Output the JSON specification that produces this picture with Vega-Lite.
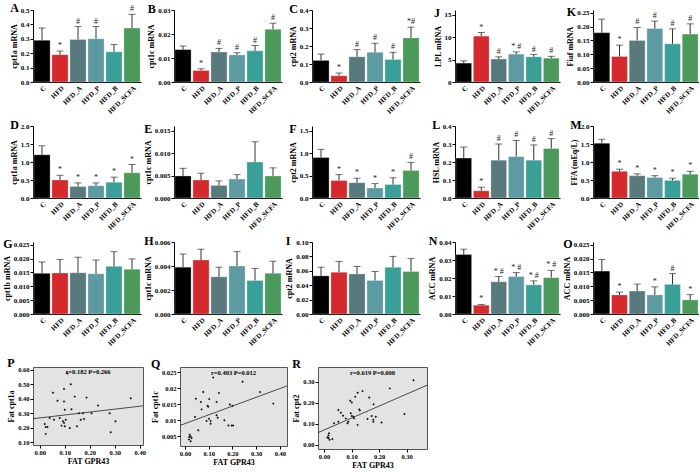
{
"$schema": "https://vega.github.io/schema/vega-lite/v6.json",
"padding": {"left": 3, "top": 2, "right": 0, "bottom": 0},
"data": {"name": "bars"},
"datasets": {
"bars": [
{"p":"A","g":"C","v":0.29,"e":0.375,"s":""},{"p":"A","g":"HFD","v":0.19,"e":0.215,"s":"*"},{"p":"A","g":"HFD_A","v":0.295,"e":0.385,"s":"#"},{"p":"A","g":"HFD_P","v":0.3,"e":0.385,"s":"#"},{"p":"A","g":"HFD_B","v":0.21,"e":0.26,"s":""},{"p":"A","g":"HFD_SCFA","v":0.375,"e":0.47,"s":"#"},
{"p":"B","g":"C","v":0.0135,"e":0.015,"s":""},{"p":"B","g":"HFD","v":0.0048,"e":0.0055,"s":"*"},{"p":"B","g":"HFD_A","v":0.0125,"e":0.014,"s":"#"},{"p":"B","g":"HFD_P","v":0.0113,"e":0.0122,"s":"#"},{"p":"B","g":"HFD_B","v":0.013,"e":0.0152,"s":"#"},{"p":"B","g":"HFD_SCFA","v":0.022,"e":0.0245,"s":"#"},
{"p":"C","g":"C","v":0.12,"e":0.155,"s":""},{"p":"C","g":"HFD","v":0.035,"e":0.05,"s":"*"},{"p":"C","g":"HFD_A","v":0.14,"e":0.18,"s":"#"},{"p":"C","g":"HFD_P","v":0.165,"e":0.215,"s":"#"},{"p":"C","g":"HFD_B","v":0.125,"e":0.165,"s":"#"},{"p":"C","g":"HFD_SCFA","v":0.245,"e":0.305,"s":"*#"},
{"p":"D","g":"C","v":1.2,"e":1.45,"s":""},{"p":"D","g":"HFD","v":0.5,"e":0.63,"s":"*"},{"p":"D","g":"HFD_A","v":0.32,"e":0.42,"s":"*"},{"p":"D","g":"HFD_P","v":0.34,"e":0.42,"s":"*"},{"p":"D","g":"HFD_B","v":0.44,"e":0.58,"s":"*"},{"p":"D","g":"HFD_SCFA","v":0.7,"e":0.93,"s":"*"},
{"p":"E","g":"C","v":0.0049,"e":0.0066,"s":""},{"p":"E","g":"HFD","v":0.004,"e":0.0055,"s":""},{"p":"E","g":"HFD_A","v":0.0028,"e":0.0038,"s":""},{"p":"E","g":"HFD_P","v":0.0042,"e":0.0052,"s":""},{"p":"E","g":"HFD_B","v":0.008,"e":0.0125,"s":""},{"p":"E","g":"HFD_SCFA","v":0.0049,"e":0.0067,"s":""},
{"p":"F","g":"C","v":0.9,"e":1.08,"s":""},{"p":"F","g":"HFD","v":0.39,"e":0.52,"s":"*"},{"p":"F","g":"HFD_A","v":0.34,"e":0.44,"s":"*"},{"p":"F","g":"HFD_P","v":0.22,"e":0.32,"s":"*"},{"p":"F","g":"HFD_B","v":0.3,"e":0.45,"s":"*"},{"p":"F","g":"HFD_SCFA","v":0.61,"e":0.79,"s":"#"},
{"p":"G","g":"C","v":0.0147,"e":0.0188,"s":""},{"p":"G","g":"HFD","v":0.0148,"e":0.0197,"s":""},{"p":"G","g":"HFD_A","v":0.0149,"e":0.0205,"s":""},{"p":"G","g":"HFD_P","v":0.0145,"e":0.0195,"s":""},{"p":"G","g":"HFD_B","v":0.0172,"e":0.0225,"s":""},{"p":"G","g":"HFD_SCFA","v":0.0162,"e":0.0199,"s":""},
{"p":"H","g":"C","v":0.0039,"e":0.005,"s":""},{"p":"H","g":"HFD","v":0.0045,"e":0.0054,"s":""},{"p":"H","g":"HFD_A","v":0.0031,"e":0.0039,"s":""},{"p":"H","g":"HFD_P","v":0.004,"e":0.0052,"s":""},{"p":"H","g":"HFD_B","v":0.0028,"e":0.0038,"s":""},{"p":"H","g":"HFD_SCFA","v":0.0034,"e":0.0044,"s":""},
{"p":"I","g":"C","v":0.053,"e":0.065,"s":""},{"p":"I","g":"HFD","v":0.058,"e":0.073,"s":""},{"p":"I","g":"HFD_A","v":0.0556,"e":0.066,"s":""},{"p":"I","g":"HFD_P","v":0.0465,"e":0.059,"s":""},{"p":"I","g":"HFD_B","v":0.065,"e":0.08,"s":""},{"p":"I","g":"HFD_SCFA","v":0.059,"e":0.077,"s":""},
{"p":"J","g":"C","v":4.2,"e":4.7,"s":""},{"p":"J","g":"HFD","v":10.2,"e":11,"s":"*"},{"p":"J","g":"HFD_A","v":5.1,"e":5.6,"s":"#"},{"p":"J","g":"HFD_P","v":6.2,"e":6.7,"s":"* #"},{"p":"J","g":"HFD_B","v":5.6,"e":6.1,"s":"#"},{"p":"J","g":"HFD_SCFA","v":5.3,"e":5.7,"s":"#"},
{"p":"K","g":"C","v":0.178,"e":0.227,"s":""},{"p":"K","g":"HFD","v":0.092,"e":0.133,"s":"*"},{"p":"K","g":"HFD_A","v":0.15,"e":0.197,"s":"#"},{"p":"K","g":"HFD_P","v":0.193,"e":0.22,"s":"#"},{"p":"K","g":"HFD_B","v":0.138,"e":0.192,"s":"#"},{"p":"K","g":"HFD_SCFA","v":0.173,"e":0.21,"s":"#"},
{"p":"L","g":"C","v":0.222,"e":0.283,"s":""},{"p":"L","g":"HFD","v":0.04,"e":0.06,"s":"*"},{"p":"L","g":"HFD_A","v":0.21,"e":0.3,"s":"#"},{"p":"L","g":"HFD_P","v":0.23,"e":0.32,"s":"#"},{"p":"L","g":"HFD_B","v":0.21,"e":0.295,"s":"#"},{"p":"L","g":"HFD_SCFA","v":0.275,"e":0.33,"s":"#"},
{"p":"M","g":"C","v":1.52,"e":1.63,"s":""},{"p":"M","g":"HFD","v":0.74,"e":0.8,"s":"*"},{"p":"M","g":"HFD_A","v":0.62,"e":0.67,"s":"*"},{"p":"M","g":"HFD_P","v":0.57,"e":0.62,"s":"*"},{"p":"M","g":"HFD_B","v":0.49,"e":0.55,"s":"*"},{"p":"M","g":"HFD_SCFA","v":0.66,"e":0.74,"s":"*"},
{"p":"N","g":"C","v":0.033,"e":0.036,"s":""},{"p":"N","g":"HFD","v":0.0049,"e":0.0053,"s":"*"},{"p":"N","g":"HFD_A","v":0.0179,"e":0.0208,"s":"* #"},{"p":"N","g":"HFD_P","v":0.0208,"e":0.023,"s":"* #"},{"p":"N","g":"HFD_B","v":0.0162,"e":0.0184,"s":"* #"},{"p":"N","g":"HFD_SCFA","v":0.0202,"e":0.0242,"s":"* #"},
{"p":"O","g":"C","v":0.0155,"e":0.0197,"s":""},{"p":"O","g":"HFD","v":0.0069,"e":0.0079,"s":"*"},{"p":"O","g":"HFD_A","v":0.0083,"e":0.0108,"s":""},{"p":"O","g":"HFD_P","v":0.0069,"e":0.0098,"s":"*"},{"p":"O","g":"HFD_B","v":0.0107,"e":0.0146,"s":"#"},{"p":"O","g":"HFD_SCFA","v":0.0051,"e":0.007,"s":"*"}
],
"sc": [
{"p":"P","x":0.111,"y":0.575},{"p":"P","x":0.124,"y":0.5},{"p":"P","x":0.097,"y":0.468},{"p":"P","x":0.053,"y":0.442},{"p":"P","x":0.071,"y":0.386},{"p":"P","x":0.097,"y":0.381},{"p":"P","x":0.14,"y":0.415},{"p":"P","x":0.187,"y":0.408},{"p":"P","x":0.233,"y":0.353},{"p":"P","x":0.364,"y":0.403},{"p":"P","x":0.1,"y":0.324},{"p":"P","x":0.127,"y":0.328},{"p":"P","x":0.157,"y":0.3},{"p":"P","x":0.173,"y":0.3},{"p":"P","x":0.207,"y":0.3},{"p":"P","x":0.177,"y":0.26},{"p":"P","x":0.164,"y":0.255},{"p":"P","x":0.02,"y":0.225},{"p":"P","x":0.031,"y":0.205},{"p":"P","x":0.024,"y":0.205},{"p":"P","x":0.04,"y":0.267},{"p":"P","x":0.057,"y":0.255},{"p":"P","x":0.08,"y":0.267},{"p":"P","x":0.093,"y":0.244},{"p":"P","x":0.097,"y":0.232},{"p":"P","x":0.104,"y":0.255},{"p":"P","x":0.087,"y":0.214},{"p":"P","x":0.1,"y":0.21},{"p":"P","x":0.12,"y":0.198},{"p":"P","x":0.149,"y":0.21},{"p":"P","x":0.024,"y":0.157},{"p":"P","x":0.303,"y":0.244},{"p":"P","x":0.28,"y":0.3},{"p":"P","x":0.284,"y":0.168},
{"p":"Q","x":0.119,"y":0.0233},{"p":"Q","x":0.077,"y":0.0188},{"p":"Q","x":0.143,"y":0.0185},{"p":"Q","x":0.046,"y":0.0167},{"p":"Q","x":0.102,"y":0.0166},{"p":"Q","x":0.067,"y":0.0157},{"p":"Q","x":0.133,"y":0.0157},{"p":"Q","x":0.095,"y":0.0145},{"p":"Q","x":0.098,"y":0.0142},{"p":"Q","x":0.07,"y":0.0134},{"p":"Q","x":0.189,"y":0.0149},{"p":"Q","x":0.2,"y":0.0145},{"p":"Q","x":0.133,"y":0.0116},{"p":"Q","x":0.138,"y":0.0108},{"p":"Q","x":0.101,"y":0.0105},{"p":"Q","x":0.108,"y":0.0098},{"p":"Q","x":0.091,"y":0.0098},{"p":"Q","x":0.108,"y":0.0089},{"p":"Q","x":0.166,"y":0.01},{"p":"Q","x":0.183,"y":0.0084},{"p":"Q","x":0.197,"y":0.0084},{"p":"Q","x":0.042,"y":0.011},{"p":"Q","x":0.056,"y":0.0069},{"p":"Q","x":0.02,"y":0.0055},{"p":"Q","x":0.024,"y":0.005},{"p":"Q","x":0.028,"y":0.0045},{"p":"Q","x":0.017,"y":0.004},{"p":"Q","x":0.024,"y":0.0035},{"p":"Q","x":0.018,"y":0.0048},{"p":"Q","x":0.243,"y":0.022},{"p":"Q","x":0.316,"y":0.0188},{"p":"Q","x":0.372,"y":0.0152},{"p":"Q","x":0.203,"y":0.0084},
{"p":"R","x":0.325,"y":0.308},{"p":"R","x":0.239,"y":0.269},{"p":"R","x":0.14,"y":0.256},{"p":"R","x":0.122,"y":0.248},{"p":"R","x":0.113,"y":0.229},{"p":"R","x":0.164,"y":0.226},{"p":"R","x":0.095,"y":0.21},{"p":"R","x":0.101,"y":0.202},{"p":"R","x":0.18,"y":0.193},{"p":"R","x":0.052,"y":0.166},{"p":"R","x":0.061,"y":0.153},{"p":"R","x":0.069,"y":0.139},{"p":"R","x":0.097,"y":0.15},{"p":"R","x":0.101,"y":0.137},{"p":"R","x":0.107,"y":0.134},{"p":"R","x":0.128,"y":0.169},{"p":"R","x":0.13,"y":0.163},{"p":"R","x":0.109,"y":0.126},{"p":"R","x":0.079,"y":0.126},{"p":"R","x":0.088,"y":0.11},{"p":"R","x":0.085,"y":0.103},{"p":"R","x":0.052,"y":0.11},{"p":"R","x":0.036,"y":0.103},{"p":"R","x":0.122,"y":0.095},{"p":"R","x":0.158,"y":0.123},{"p":"R","x":0.173,"y":0.137},{"p":"R","x":0.188,"y":0.134},{"p":"R","x":0.179,"y":0.11},{"p":"R","x":0.179,"y":0.12},{"p":"R","x":0.209,"y":0.106},{"p":"R","x":0.292,"y":0.147},{"p":"R","x":0.018,"y":0.055},{"p":"R","x":0.016,"y":0.044},{"p":"R","x":0.012,"y":0.035},{"p":"R","x":0.02,"y":0.024},{"p":"R","x":0.03,"y":0.028},{"p":"R","x":0.016,"y":0.032}
],
"ln": [
{"p":"P","x":-0.027,"y":0.262},{"p":"P","x":0.413,"y":0.351},
{"p":"Q","x":-0.021,"y":0.0084},{"p":"Q","x":0.43,"y":0.0207},
{"p":"R","x":-0.022,"y":0.058},{"p":"R","x":0.374,"y":0.284}
]
},
"config": {
"font": "Liberation Serif",
"view": {"stroke": null},
"range": {"category": ["#000000","#d42a2e","#587a7d","#3aa097","#5d9aa2","#4b9a5b"]},
"axis": {"labelFont": "Liberation Serif","labelFontWeight": "bold","labelFontSize": 7,"labelColor": "#000","titleFont": "Liberation Serif","titleFontWeight": "bold","titleFontSize": 8,"titleColor": "#000","domainColor": "#000","tickColor": "#000","grid": false,"tickSize": 3,"labelPadding": 1,"titlePadding": 2,"labelOverlap": false},
"axisBand": {"labelAngle": -45,"ticks": false,"labelPadding": 2,"labelFontSize": 7},
"title": {"font": "Liberation Serif","fontWeight": "bold","fontSize": 12,"anchor": "start","frame": "bounds","color": "#000","offset": -10},
"bar": {"stroke": "#ffffff","strokeWidth": 0.5,"strokeOpacity": 0.6},
"rule": {"color": "#333","strokeWidth": 1},
"tick": {"color": "#333","thickness": 1}
},
"vconcat": [
{"hconcat": [
{"columns": 3, "spacing": {"row": 4, "column": 3}, "concat": [
{"title":"A","width":108,"height":72,"transform":[{"filter":"datum.p=='A'"}],"resolve":{"axis":{"y":"independent"}},"encoding":{"x":{"field":"g","type":"nominal","sort":["C","HFD","HFD_A","HFD_P","HFD_B","HFD_SCFA"],"title":null}},"layer":[
{"mark":"bar","encoding":{"y":{"field":"v","type":"quantitative","scale":{"domain":[0,0.5]},"axis":{"title":"cpt1a mRNA","values":[0,0.1,0.2,0.3,0.4,0.5],"format":".1f"}},"color":{"field":"g","type":"nominal","legend":null}}},
{"mark":"rule","encoding":{"y":{"field":"v","type":"quantitative","axis":null},"y2":{"field":"e"}}},
{"mark":{"type":"tick","size":7},"encoding":{"y":{"field":"e","type":"quantitative","axis":null}}},
{"mark":{"type":"text","fontSize":8,"baseline":"bottom","dy":-1,"color":"#222"},"encoding":{"y":{"field":"e","type":"quantitative","axis":null},"text":{"field":"s"}}}]},
{"title":"B","width":108,"height":72,"transform":[{"filter":"datum.p=='B'"}],"resolve":{"axis":{"y":"independent"}},"encoding":{"x":{"field":"g","type":"nominal","sort":["C","HFD","HFD_A","HFD_P","HFD_B","HFD_SCFA"],"title":null}},"layer":[
{"mark":"bar","encoding":{"y":{"field":"v","type":"quantitative","scale":{"domain":[0,0.03]},"axis":{"title":"cpt1c mRNA","values":[0,0.01,0.02,0.03],"format":".2f"}},"color":{"field":"g","type":"nominal","legend":null}}},
{"mark":"rule","encoding":{"y":{"field":"v","type":"quantitative","axis":null},"y2":{"field":"e"}}},
{"mark":{"type":"tick","size":7},"encoding":{"y":{"field":"e","type":"quantitative","axis":null}}},
{"mark":{"type":"text","fontSize":8,"baseline":"bottom","dy":-1,"color":"#222"},"encoding":{"y":{"field":"e","type":"quantitative","axis":null},"text":{"field":"s"}}}]},
{"title":"C","width":108,"height":72,"transform":[{"filter":"datum.p=='C'"}],"resolve":{"axis":{"y":"independent"}},"encoding":{"x":{"field":"g","type":"nominal","sort":["C","HFD","HFD_A","HFD_P","HFD_B","HFD_SCFA"],"title":null}},"layer":[
{"mark":"bar","encoding":{"y":{"field":"v","type":"quantitative","scale":{"domain":[0,0.4]},"axis":{"title":"cpt2 mRNA","values":[0,0.1,0.2,0.3,0.4],"format":".1f"}},"color":{"field":"g","type":"nominal","legend":null}}},
{"mark":"rule","encoding":{"y":{"field":"v","type":"quantitative","axis":null},"y2":{"field":"e"}}},
{"mark":{"type":"tick","size":7},"encoding":{"y":{"field":"e","type":"quantitative","axis":null}}},
{"mark":{"type":"text","fontSize":8,"baseline":"bottom","dy":-1,"color":"#222"},"encoding":{"y":{"field":"e","type":"quantitative","axis":null},"text":{"field":"s"}}}]},
{"title":"D","width":108,"height":72,"transform":[{"filter":"datum.p=='D'"}],"resolve":{"axis":{"y":"independent"}},"encoding":{"x":{"field":"g","type":"nominal","sort":["C","HFD","HFD_A","HFD_P","HFD_B","HFD_SCFA"],"title":null}},"layer":[
{"mark":"bar","encoding":{"y":{"field":"v","type":"quantitative","scale":{"domain":[0,2]},"axis":{"title":"cpt1a mRNA","values":[0,0.5,1,1.5,2],"format":".1f"}},"color":{"field":"g","type":"nominal","legend":null}}},
{"mark":"rule","encoding":{"y":{"field":"v","type":"quantitative","axis":null},"y2":{"field":"e"}}},
{"mark":{"type":"tick","size":7},"encoding":{"y":{"field":"e","type":"quantitative","axis":null}}},
{"mark":{"type":"text","fontSize":8,"baseline":"bottom","dy":-1,"color":"#222"},"encoding":{"y":{"field":"e","type":"quantitative","axis":null},"text":{"field":"s"}}}]},
{"title":"E","width":108,"height":72,"transform":[{"filter":"datum.p=='E'"}],"resolve":{"axis":{"y":"independent"}},"encoding":{"x":{"field":"g","type":"nominal","sort":["C","HFD","HFD_A","HFD_P","HFD_B","HFD_SCFA"],"title":null}},"layer":[
{"mark":"bar","encoding":{"y":{"field":"v","type":"quantitative","scale":{"domain":[0,0.015]},"axis":{"title":"cpt1c mRNA","values":[0,0.005,0.01,0.015],"format":".3f"}},"color":{"field":"g","type":"nominal","legend":null}}},
{"mark":"rule","encoding":{"y":{"field":"v","type":"quantitative","axis":null},"y2":{"field":"e"}}},
{"mark":{"type":"tick","size":7},"encoding":{"y":{"field":"e","type":"quantitative","axis":null}}},
{"mark":{"type":"text","fontSize":8,"baseline":"bottom","dy":-1,"color":"#222"},"encoding":{"y":{"field":"e","type":"quantitative","axis":null},"text":{"field":"s"}}}]},
{"title":"F","width":108,"height":72,"transform":[{"filter":"datum.p=='F'"}],"resolve":{"axis":{"y":"independent"}},"encoding":{"x":{"field":"g","type":"nominal","sort":["C","HFD","HFD_A","HFD_P","HFD_B","HFD_SCFA"],"title":null}},"layer":[
{"mark":"bar","encoding":{"y":{"field":"v","type":"quantitative","scale":{"domain":[0,1.5]},"axis":{"title":"cpt2 mRNA","values":[0,0.5,1,1.5],"format":".1f"}},"color":{"field":"g","type":"nominal","legend":null}}},
{"mark":"rule","encoding":{"y":{"field":"v","type":"quantitative","axis":null},"y2":{"field":"e"}}},
{"mark":{"type":"tick","size":7},"encoding":{"y":{"field":"e","type":"quantitative","axis":null}}},
{"mark":{"type":"text","fontSize":8,"baseline":"bottom","dy":-1,"color":"#222"},"encoding":{"y":{"field":"e","type":"quantitative","axis":null},"text":{"field":"s"}}}]},
{"title":"G","width":108,"height":72,"transform":[{"filter":"datum.p=='G'"}],"resolve":{"axis":{"y":"independent"}},"encoding":{"x":{"field":"g","type":"nominal","sort":["C","HFD","HFD_A","HFD_P","HFD_B","HFD_SCFA"],"title":null}},"layer":[
{"mark":"bar","encoding":{"y":{"field":"v","type":"quantitative","scale":{"domain":[0,0.025]},"axis":{"title":"cpt1b mRNA","values":[0,0.005,0.01,0.015,0.02,0.025],"format":".3f"}},"color":{"field":"g","type":"nominal","legend":null}}},
{"mark":"rule","encoding":{"y":{"field":"v","type":"quantitative","axis":null},"y2":{"field":"e"}}},
{"mark":{"type":"tick","size":7},"encoding":{"y":{"field":"e","type":"quantitative","axis":null}}},
{"mark":{"type":"text","fontSize":8,"baseline":"bottom","dy":-1,"color":"#222"},"encoding":{"y":{"field":"e","type":"quantitative","axis":null},"text":{"field":"s"}}}]},
{"title":"H","width":108,"height":72,"transform":[{"filter":"datum.p=='H'"}],"resolve":{"axis":{"y":"independent"}},"encoding":{"x":{"field":"g","type":"nominal","sort":["C","HFD","HFD_A","HFD_P","HFD_B","HFD_SCFA"],"title":null}},"layer":[
{"mark":"bar","encoding":{"y":{"field":"v","type":"quantitative","scale":{"domain":[0,0.006]},"axis":{"title":"cpt1c mRNA","values":[0,0.002,0.004,0.006],"format":".3f"}},"color":{"field":"g","type":"nominal","legend":null}}},
{"mark":"rule","encoding":{"y":{"field":"v","type":"quantitative","axis":null},"y2":{"field":"e"}}},
{"mark":{"type":"tick","size":7},"encoding":{"y":{"field":"e","type":"quantitative","axis":null}}},
{"mark":{"type":"text","fontSize":8,"baseline":"bottom","dy":-1,"color":"#222"},"encoding":{"y":{"field":"e","type":"quantitative","axis":null},"text":{"field":"s"}}}]},
{"title":"I","width":108,"height":72,"transform":[{"filter":"datum.p=='I'"}],"resolve":{"axis":{"y":"independent"}},"encoding":{"x":{"field":"g","type":"nominal","sort":["C","HFD","HFD_A","HFD_P","HFD_B","HFD_SCFA"],"title":null}},"layer":[
{"mark":"bar","encoding":{"y":{"field":"v","type":"quantitative","scale":{"domain":[0,0.1]},"axis":{"title":"cpt2 mRNA","values":[0,0.02,0.04,0.06,0.08,0.1],"format":".2f"}},"color":{"field":"g","type":"nominal","legend":null}}},
{"mark":"rule","encoding":{"y":{"field":"v","type":"quantitative","axis":null},"y2":{"field":"e"}}},
{"mark":{"type":"tick","size":7},"encoding":{"y":{"field":"e","type":"quantitative","axis":null}}},
{"mark":{"type":"text","fontSize":8,"baseline":"bottom","dy":-1,"color":"#222"},"encoding":{"y":{"field":"e","type":"quantitative","axis":null},"text":{"field":"s"}}}]}
]},
{"columns": 2, "spacing": {"row": 4, "column": 3}, "concat": [
{"title":"J","width":105,"height":72,"transform":[{"filter":"datum.p=='J'"}],"resolve":{"axis":{"y":"independent"}},"encoding":{"x":{"field":"g","type":"nominal","sort":["C","HFD","HFD_A","HFD_P","HFD_B","HFD_SCFA"],"title":null}},"layer":[
{"mark":"bar","encoding":{"y":{"field":"v","type":"quantitative","scale":{"domain":[0,15]},"axis":{"title":"LPL mRNA","values":[0,5,10,15],"format":"d"}},"color":{"field":"g","type":"nominal","legend":null}}},
{"mark":"rule","encoding":{"y":{"field":"v","type":"quantitative","axis":null},"y2":{"field":"e"}}},
{"mark":{"type":"tick","size":7},"encoding":{"y":{"field":"e","type":"quantitative","axis":null}}},
{"mark":{"type":"text","fontSize":8,"baseline":"bottom","dy":-1,"color":"#222"},"encoding":{"y":{"field":"e","type":"quantitative","axis":null},"text":{"field":"s"}}}]},
{"title":"K","width":106,"height":72,"transform":[{"filter":"datum.p=='K'"}],"resolve":{"axis":{"y":"independent"}},"encoding":{"x":{"field":"g","type":"nominal","sort":["C","HFD","HFD_A","HFD_P","HFD_B","HFD_SCFA"],"title":null}},"layer":[
{"mark":"bar","encoding":{"y":{"field":"v","type":"quantitative","scale":{"domain":[0,0.25]},"axis":{"title":"Fiaf mRNA","values":[0,0.05,0.1,0.15,0.2,0.25],"format":".2f"}},"color":{"field":"g","type":"nominal","legend":null}}},
{"mark":"rule","encoding":{"y":{"field":"v","type":"quantitative","axis":null},"y2":{"field":"e"}}},
{"mark":{"type":"tick","size":7},"encoding":{"y":{"field":"e","type":"quantitative","axis":null}}},
{"mark":{"type":"text","fontSize":8,"baseline":"bottom","dy":-1,"color":"#222"},"encoding":{"y":{"field":"e","type":"quantitative","axis":null},"text":{"field":"s"}}}]},
{"title":"L","width":105,"height":72,"transform":[{"filter":"datum.p=='L'"}],"resolve":{"axis":{"y":"independent"}},"encoding":{"x":{"field":"g","type":"nominal","sort":["C","HFD","HFD_A","HFD_P","HFD_B","HFD_SCFA"],"title":null}},"layer":[
{"mark":"bar","encoding":{"y":{"field":"v","type":"quantitative","scale":{"domain":[0,0.4]},"axis":{"title":"HSL mRNA","values":[0,0.1,0.2,0.3,0.4],"format":".1f"}},"color":{"field":"g","type":"nominal","legend":null}}},
{"mark":"rule","encoding":{"y":{"field":"v","type":"quantitative","axis":null},"y2":{"field":"e"}}},
{"mark":{"type":"tick","size":7},"encoding":{"y":{"field":"e","type":"quantitative","axis":null}}},
{"mark":{"type":"text","fontSize":8,"baseline":"bottom","dy":-1,"color":"#222"},"encoding":{"y":{"field":"e","type":"quantitative","axis":null},"text":{"field":"s"}}}]},
{"title":"M","width":106,"height":72,"transform":[{"filter":"datum.p=='M'"}],"resolve":{"axis":{"y":"independent"}},"encoding":{"x":{"field":"g","type":"nominal","sort":["C","HFD","HFD_A","HFD_P","HFD_B","HFD_SCFA"],"title":null}},"layer":[
{"mark":"bar","encoding":{"y":{"field":"v","type":"quantitative","scale":{"domain":[0,2]},"axis":{"title":"FFA (mEq/L)","values":[0,0.5,1,1.5,2],"format":".1f"}},"color":{"field":"g","type":"nominal","legend":null}}},
{"mark":"rule","encoding":{"y":{"field":"v","type":"quantitative","axis":null},"y2":{"field":"e"}}},
{"mark":{"type":"tick","size":7},"encoding":{"y":{"field":"e","type":"quantitative","axis":null}}},
{"mark":{"type":"text","fontSize":8,"baseline":"bottom","dy":-1,"color":"#222"},"encoding":{"y":{"field":"e","type":"quantitative","axis":null},"text":{"field":"s"}}}]},
{"title":"N","width":105,"height":72,"transform":[{"filter":"datum.p=='N'"}],"resolve":{"axis":{"y":"independent"}},"encoding":{"x":{"field":"g","type":"nominal","sort":["C","HFD","HFD_A","HFD_P","HFD_B","HFD_SCFA"],"title":null}},"layer":[
{"mark":"bar","encoding":{"y":{"field":"v","type":"quantitative","scale":{"domain":[0,0.04]},"axis":{"title":"ACC mRNA","values":[0,0.01,0.02,0.03,0.04],"format":".2f"}},"color":{"field":"g","type":"nominal","legend":null}}},
{"mark":"rule","encoding":{"y":{"field":"v","type":"quantitative","axis":null},"y2":{"field":"e"}}},
{"mark":{"type":"tick","size":7},"encoding":{"y":{"field":"e","type":"quantitative","axis":null}}},
{"mark":{"type":"text","fontSize":8,"baseline":"bottom","dy":-1,"color":"#222"},"encoding":{"y":{"field":"e","type":"quantitative","axis":null},"text":{"field":"s"}}}]},
{"title":"O","width":106,"height":72,"transform":[{"filter":"datum.p=='O'"}],"resolve":{"axis":{"y":"independent"}},"encoding":{"x":{"field":"g","type":"nominal","sort":["C","HFD","HFD_A","HFD_P","HFD_B","HFD_SCFA"],"title":null}},"layer":[
{"mark":"bar","encoding":{"y":{"field":"v","type":"quantitative","scale":{"domain":[0,0.025]},"axis":{"title":"ACC mRNA","values":[0,0.005,0.01,0.015,0.02,0.025],"format":".3f"}},"color":{"field":"g","type":"nominal","legend":null}}},
{"mark":"rule","encoding":{"y":{"field":"v","type":"quantitative","axis":null},"y2":{"field":"e"}}},
{"mark":{"type":"tick","size":7},"encoding":{"y":{"field":"e","type":"quantitative","axis":null}}},
{"mark":{"type":"text","fontSize":8,"baseline":"bottom","dy":-1,"color":"#222"},"encoding":{"y":{"field":"e","type":"quantitative","axis":null},"text":{"field":"s"}}}]}
]}
], "spacing": 8},
{"hconcat": [
{"title": {"text": "P", "offset": -4}, "hconcat": [
{"title": {"text": "r=0.182      P=0.266", "anchor": "middle", "frame": "group", "fontSize": 6.5, "offset": -9}, "width": 110, "height": 78, "view": {"fill": "#e3e3e3", "stroke": "#555"}, "resolve": {"axis": {"x": "independent", "y": "independent"}},
"layer": [
{"data": {"name": "sc"}, "transform": [{"filter": "datum.p=='P'"}], "mark": {"type": "point", "shape": "diamond", "size": 6, "filled": true, "color": "#111", "opacity": 1},
"encoding": {"x": {"field": "x", "type": "quantitative", "scale": {"domain": [-0.027, 0.413], "nice": false, "zero": false}, "axis": {"title": "FAT GPR43", "values": [0, 0.1, 0.2, 0.3, 0.4], "format": ".2f", "domain": false, "labelFontSize": 6.5}},
"y": {"field": "y", "type": "quantitative", "scale": {"domain": [0.08, 0.62], "nice": false, "zero": false}, "axis": {"title": "Fat cpt1a", "values": [0.1, 0.2, 0.3, 0.4, 0.5, 0.6], "format": ".2f", "domain": false, "labelFontSize": 6.5}}}},
{"data": {"name": "ln"}, "transform": [{"filter": "datum.p=='P'"}], "mark": {"type": "line", "color": "#222", "strokeWidth": 0.8, "clip": true},
"encoding": {"x": {"field": "x", "type": "quantitative", "axis": null}, "y": {"field": "y", "type": "quantitative", "axis": null}}}
]}]},
{"title": {"text": "Q", "offset": -4}, "hconcat": [
{"title": {"text": "r=0.403      P=0.012", "anchor": "middle", "frame": "group", "fontSize": 6.5, "offset": -9}, "width": 107, "height": 79, "view": {"fill": "#e3e3e3", "stroke": "#555"}, "resolve": {"axis": {"x": "independent", "y": "independent"}},
"layer": [
{"data": {"name": "sc"}, "transform": [{"filter": "datum.p=='Q'"}], "mark": {"type": "point", "shape": "diamond", "size": 6, "filled": true, "color": "#111", "opacity": 1},
"encoding": {"x": {"field": "x", "type": "quantitative", "scale": {"domain": [-0.021, 0.43], "nice": false, "zero": false}, "axis": {"title": "FAT GPR43", "values": [0, 0.1, 0.2, 0.3, 0.4], "format": ".2f", "domain": false, "labelFontSize": 6.5}},
"y": {"field": "y", "type": "quantitative", "scale": {"domain": [0.002, 0.0266], "nice": false, "zero": false}, "axis": {"title": "Fat cpt1c", "values": [0.005, 0.01, 0.015, 0.02, 0.025], "format": "~g", "domain": false, "labelFontSize": 6.5}}}},
{"data": {"name": "ln"}, "transform": [{"filter": "datum.p=='Q'"}], "mark": {"type": "line", "color": "#222", "strokeWidth": 0.8, "clip": true},
"encoding": {"x": {"field": "x", "type": "quantitative", "axis": null}, "y": {"field": "y", "type": "quantitative", "axis": null}}}
]}]},
{"title": {"text": "R", "offset": -4}, "hconcat": [
{"title": {"text": "r=0.619      P=0.000", "anchor": "middle", "frame": "group", "fontSize": 6.5, "offset": -9}, "width": 109, "height": 82, "view": {"fill": "#e3e3e3", "stroke": "#555"}, "resolve": {"axis": {"x": "independent", "y": "independent"}},
"layer": [
{"data": {"name": "sc"}, "transform": [{"filter": "datum.p=='R'"}], "mark": {"type": "point", "shape": "diamond", "size": 6, "filled": true, "color": "#111", "opacity": 1},
"encoding": {"x": {"field": "x", "type": "quantitative", "scale": {"domain": [-0.022, 0.374], "nice": false, "zero": false}, "axis": {"title": "FAT GPR43", "values": [0, 0.1, 0.2, 0.3], "format": ".2f", "domain": false, "labelFontSize": 6.5}},
"y": {"field": "y", "type": "quantitative", "scale": {"domain": [-0.02, 0.371], "nice": false, "zero": false}, "axis": {"title": "Fat cpt2", "values": [0, 0.1, 0.2, 0.3], "format": ".2f", "domain": false, "labelFontSize": 6.5}}}},
{"data": {"name": "ln"}, "transform": [{"filter": "datum.p=='R'"}], "mark": {"type": "line", "color": "#222", "strokeWidth": 0.8, "clip": true},
"encoding": {"x": {"field": "x", "type": "quantitative", "axis": null}, "y": {"field": "y", "type": "quantitative", "axis": null}}}
]}]}
], "spacing": 4}
],
"spacing": 10
}
